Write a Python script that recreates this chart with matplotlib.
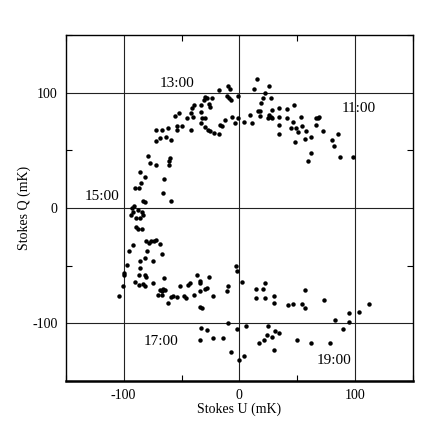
import matplotlib
matplotlib.use('Agg')
import matplotlib.pyplot as plt
from matplotlib.ticker import MultipleLocator

plt.rcParams['font.family'] = ['Liberation Serif', 'DejaVu Serif']
plt.rcParams['axes.unicode_minus'] = False

# Stokes U, Q (mK)
stokes_u = [98, 87, 85, 80, 82, 72, 69, 68, 66, 66, 62, 57, 58, 62, 59, 54, 53, 51, 49, 45,
            46, 48, 47, 41, 34, 34, 41, 34, 34, 28, 26, 27, 28, 25, 18, 16, 18, 19, 20, 27,
            22, 26, 15, 13, 9, 11, 4, -1, -4, -6, -12, -15, -17, -18, -22, -25, -27, -30, -33, -32,
            -30, -33, -33, -26, -25, -30, -31, -28, -24, -18, -10, -8, -11, -9, -7, -1, -39, -41, -42, -40,
            -45, -52, -56, -50, -54, -54, -42, -62, -67, -72, -69, -72, -63, -59, -79, -77, -72, -60, -61, -61,
            -65, -66, -59, -86, -82, -85, -87, -90, -83, -82, -91, -93, -92, -94, -88, -84, -83, -86, -89, -89,
            -88, -84, -81, -78, -76, -74, -72, -69, -80, -82, -75, -67, -86, -86, -92, -95, -97, -100, -100, -101,
            -104, -87, -82, -81, -90, -87, -83, -82, -75, -65, -69, -67, -66, -64, -70, -67, -62, -59, -57, -54,
            -51, -48, -46, -44, -43, -39, -37, -34, -34, -26, -34, -30, -28, -23, -34, -32, -33, -28, -34, -23,
            -14, -10, -7, -2, 0, 4, 6, -3, -2, 2, -11, -10, 14, 20, 22, 14, 22, 30, 30, 42,
            46, 57, 54, 57, 73, 83, 90, 95, 95, 103, 112, 25, 31, 34, 28, 24, 21, 17, 30, 50,
            62, 78]
stokes_q = [44, 44, 64, 59, 54, 67, 79, 78, 78, 72, 62, 60, 67, 48, 41, 71, 79, 66, 69, 69,
            75, 57, 89, 86, 87, 79, 78, 72, 64, 85, 81, 79, 78, 78, 80, 84, 84, 91, 95, 95,
            100, 106, 112, 103, 81, 74, 75, 78, 74, 79, 76, 71, 72, 64, 65, 67, 68, 70, 74, 78,
            78, 83, 89, 90, 88, 96, 94, 95, 95, 102, 106, 103, 97, 95, 94, 97, 89, 87, 82, 79,
            78, 82, 80, 71, 71, 68, 68, 69, 68, 68, 61, 58, 62, 59, 45, 39, 37, 43, 41, 37,
            25, 13, 6, 31, 27, 22, 17, 17, 6, 5, 2, 0, -3, -6, -2, -3, -6, -9, -9, -16,
            -18, -18, -29, -30, -29, -29, -28, -31, -37, -43, -46, -40, -46, -52, -32, -37, -49, -56, -58, -68,
            -76, -58, -58, -60, -64, -67, -66, -68, -65, -61, -71, -72, -70, -71, -75, -75, -82, -77, -76, -77,
            -68, -76, -78, -67, -65, -75, -58, -63, -65, -60, -72, -70, -69, -76, -86, -87, -104, -106, -114, -113,
            -113, -100, -125, -105, -132, -128, -102, -50, -55, -64, -72, -68, -70, -70, -65, -78, -78, -76, -82, -84,
            -83, -71, -83, -87, -80, -97, -105, -91, -99, -90, -83, -102, -107, -108, -112, -110, -114, -117, -123, -114,
            -117, -117]

labels = ['13:00', '11:00', '15:00', '17:00', '19:00']
label_u = [-54, 103, -119, -68, 82]
label_q = [108, 86, 10, -116, -132]

fig = plt.figure(figsize=(4.36, 4.22), dpi=100)
ax = fig.add_axes([0.151, 0.097, 0.796, 0.820])

for v in [-100, 0, 100]:
    ax.axvline(v, color='#222222', lw=0.8, zorder=1)
    ax.axhline(v, color='#222222', lw=0.8, zorder=1)

ax.plot(stokes_u, stokes_q, 'o', color='black', ms=3.2, mew=0, zorder=3)

for t, u, q in zip(labels, label_u, label_q):
    ax.text(u, q, t, fontsize=11, ha='center', va='center', zorder=4)

ax.set_xlim(-150, 150)
ax.set_ylim(-150, 150)
ax.xaxis.set_major_locator(MultipleLocator(100))
ax.yaxis.set_major_locator(MultipleLocator(100))
ax.xaxis.set_minor_locator(MultipleLocator(50))
ax.yaxis.set_minor_locator(MultipleLocator(50))
ax.tick_params(which='both', direction='in', top=True, right=True, labelsize=10)
ax.tick_params(which='major', length=0, pad=6)
ax.tick_params(which='minor', length=4, width=0.8)

for s in ['top', 'right', 'left']:
    ax.spines[s].set_linewidth(1.0)
ax.spines['bottom'].set_linewidth(1.8)

ax.set_xlabel('Stokes U (mK)', fontsize=10, labelpad=0)
ax.set_ylabel('Stokes Q (mK)', fontsize=10, labelpad=1)

fig.savefig('out.png', dpi=100)
